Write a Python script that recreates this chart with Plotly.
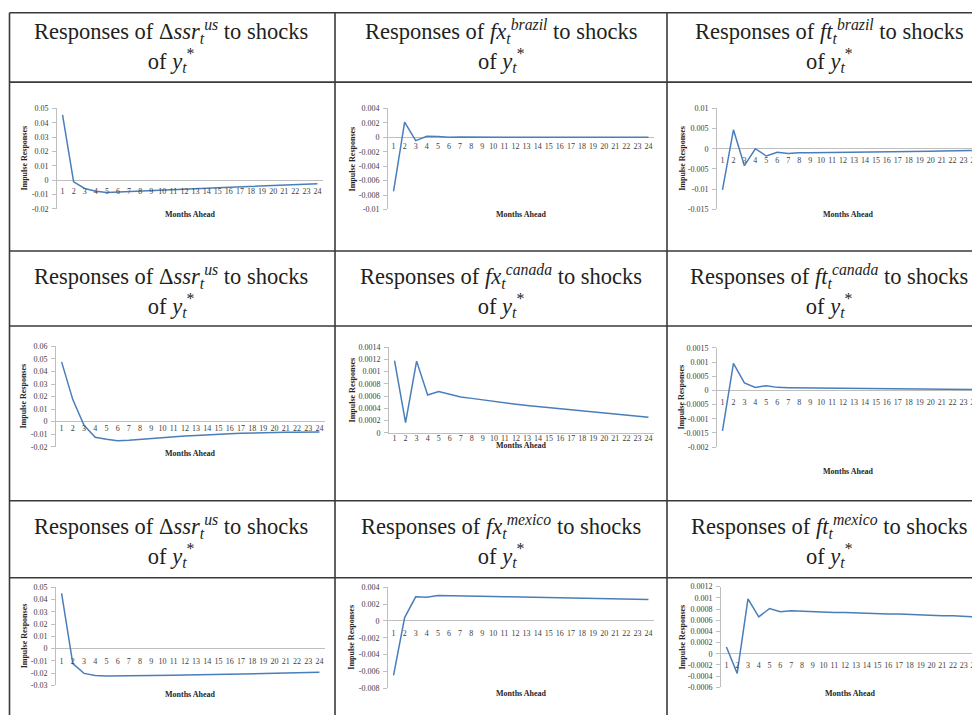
import plotly.graph_objects as go

# ---------------- data ----------------
months = list(range(1, 25))
month_labels = [str(m) for m in months]

ssr_brazil = [0.0455, -0.0012, -0.0058, -0.0077, -0.0087, -0.0083, -0.0079, -0.0075,
              -0.0071, -0.0068, -0.0065, -0.0062, -0.0059, -0.0056, -0.0053, -0.0050,
              -0.0047, -0.0044, -0.0041, -0.0038, -0.0035, -0.0032, -0.0029, -0.0026]
fx_brazil = [-0.0075, 0.0021, -0.00045, 0.00015, 0.0001, 0.0000, 0.00004, 0.00001,
             0.0, 0.0, 0.0, 0.0, 0.0, 0.0, 0.0, 0.0, 0.0, 0.0, 0.0, 0.0, 0.0, 0.0, 0.0, 0.0]
ft_brazil = [-0.0102, 0.0047, -0.0042, 0.0000, -0.0018, -0.0009, -0.0012, -0.0010,
             -0.0010, -0.00098, -0.00095, -0.0009, -0.00088, -0.00085, -0.0008, -0.00077,
             -0.00073, -0.0007, -0.00065, -0.0006, -0.00056, -0.00052, -0.00048, -0.00045]

ssr_canada = [0.0477, 0.0176, -0.0029, -0.0125, -0.0141, -0.0152, -0.0149, -0.0141,
              -0.0133, -0.0128, -0.0120, -0.0115, -0.0110, -0.0104, -0.0099, -0.0096,
              -0.0093, -0.0090, -0.0088, -0.0087, -0.0085, -0.0084, -0.0083, -0.0082]
fx_canada = [0.00118, 0.000166, 0.00117, 0.000617, 0.000676, 0.00063, 0.000585, 0.000563,
             0.000536, 0.00051, 0.000488, 0.000466, 0.000445, 0.000429, 0.000408, 0.000391,
             0.000375, 0.000359, 0.000343, 0.000327, 0.000311, 0.000295, 0.000279, 0.000257]
ft_canada = [-0.00143, 0.00096, 0.00027, 0.00011, 0.00017, 0.00011, 0.0001, 0.000095,
             0.00009, 0.000087, 0.000083, 0.00008, 0.000077, 0.000073, 0.00007, 0.000066,
             0.000062, 0.000058, 0.000055, 0.00005, 0.000047, 0.000043, 0.00004, 0.000036]

ssr_mexico = [0.0451, -0.0123, -0.0202, -0.0220, -0.0223, -0.0223, -0.0222, -0.0221,
              -0.0219, -0.0218, -0.0217, -0.0215, -0.0214, -0.0212, -0.0211, -0.0209,
              -0.0207, -0.0206, -0.0204, -0.0202, -0.0200, -0.0198, -0.0196, -0.0193]
fx_mexico = [-0.0065, 0.0004, 0.00287, 0.00283, 0.00302, 0.00298, 0.00296, 0.00294,
             0.00292, 0.0029, 0.00288, 0.00286, 0.00284, 0.00282, 0.0028, 0.00278,
             0.00276, 0.00273, 0.0027, 0.00267, 0.00264, 0.00261, 0.00258, 0.00255]
ft_mexico = [0.00012, -0.00035, 0.00098, 0.00066, 0.00081, 0.00075, 0.00077, 0.00076,
             0.00075, 0.00075, 0.00074, 0.00074, 0.00073, 0.00073, 0.00072, 0.00071,
             0.00071, 0.0007, 0.0007, 0.00069, 0.00068, 0.00068, 0.00067, 0.00066]

yticks_ssr_brazil = ["0.05", "0.04", "0.03", "0.02", "0.01", "0", "-0.01", "-0.02"]
yticks_fx_brazil = ["0.004", "0.002", "0", "-0.002", "-0.004", "-0.006", "-0.008", "-0.01"]
yticks_ft_brazil = ["0.01", "0.005", "0", "-0.005", "-0.01", "-0.015"]
yticks_ssr_canada = ["0.06", "0.05", "0.04", "0.03", "0.02", "0.01", "0", "-0.01", "-0.02"]
yticks_fx_canada = ["0.0014", "0.0012", "0.001", "0.0008", "0.0006", "0.0004", "0.0002", "0"]
yticks_ft_canada = ["0.0015", "0.001", "0.0005", "0", "-0.0005", "-0.001", "-0.0015", "-0.002"]
yticks_ssr_mexico = ["0.05", "0.04", "0.03", "0.02", "0.01", "0", "-0.01", "-0.02", "-0.03"]
yticks_fx_mexico = ["0.004", "0.002", "0", "-0.002", "-0.004", "-0.006", "-0.008"]
yticks_ft_mexico = ["0.0012", "0.001", "0.0008", "0.0006", "0.0004", "0.0002", "0",
                    "-0.0002", "-0.0004", "-0.0006"]

ystar = "of <i>y</i><sub><i>t</i></sub><sup>*</sup>"
header_ssr = "Responses of Δ<i>ssr</i><sub><i>t</i></sub><sup><i>us</i></sup> to shocks<br>" + ystar
header_fx_brazil = "Responses of <i>fx</i><sub><i>t</i></sub><sup><i>brazil</i></sup> to shocks<br>" + ystar
header_ft_brazil = "Responses of <i>ft</i><sub><i>t</i></sub><sup><i>brazil</i></sup> to shocks<br>" + ystar
header_fx_canada = "Responses of <i>fx</i><sub><i>t</i></sub><sup><i>canada</i></sup> to shocks<br>" + ystar
header_ft_canada = "Responses of <i>ft</i><sub><i>t</i></sub><sup><i>canada</i></sup> to shocks<br>" + ystar
header_fx_mexico = "Responses of <i>fx</i><sub><i>t</i></sub><sup><i>mexico</i></sup> to shocks<br>" + ystar
header_ft_mexico = "Responses of <i>ft</i><sub><i>t</i></sub><sup><i>mexico</i></sup> to shocks<br>" + ystar

y_title = "Impulse Responses"
x_title = "Months Ahead"

# ---------------- layout geometry ----------------
# The page body has an 8px margin, so the figure is 972x712 and all
# positions below (given in window pixels) are shifted by OFF.
OFF = 8
W, H = 980 - OFF, 728 - 2 * OFF
FONT = "Liberation Serif, Times New Roman, serif"
LINE_BLUE = "#4A7EBB"
AXIS_GRAY = "#BFBFBF"
TXT = "#404040"


def fx(px):
    return min(max((px - OFF) / W, 0.0), 1.0)


def fy(py):
    return min(max(1 - (py - OFF) / H, 0.0), 1.0)


panels = [
    # series, ticks, (left, right, top, bottom), x-title offset, label gap, y-title shift
    (ssr_brazil, yticks_ssr_brazil, (57, 323, 105.7, 207.3), 6, 10, -32),
    (fx_brazil, yticks_fx_brazil, (388, 654, 105.7, 208.0), 5, 8.3, -35.5),
    (ft_brazil, yticks_ft_brazil, (717, 981, 105.7, 207.7), 5.5, 10, -34),
    (ssr_canada, yticks_ssr_canada, (56, 325, 346.7, 448.3), 7, 6.5, -32),
    (fx_canada, yticks_fx_canada, (389, 654, 347.3, 434.3), 12.5, 5, -36.5),
    (ft_canada, yticks_ft_canada, (717, 981, 348.3, 448.7), 24, 10.3, -35),
    (ssr_mexico, yticks_ssr_mexico, (56, 325, 590.7, 690.0), 9, 11, -32),
    (fx_mexico, yticks_fx_mexico, (388, 654, 590.7, 692.7), 5.5, 11, -36),
    (ft_mexico, yticks_ft_mexico, (721, 981, 590.0, 692.0), 6, 10.3, -38.5),
]

headers = [header_ssr, header_fx_brazil, header_ft_brazil,
           header_ssr, header_fx_canada, header_ft_canada,
           header_ssr, header_fx_mexico, header_ft_mexico]
header_text_y = [42, 291, 544]
col_centers = [171, 501, 829]
h_lines = [8.8, 79, 250, 326, 503, 581]
v_lines = [9.5, 335, 667]

fig = go.Figure()
layout = dict(
    width=W, height=H,
    margin=dict(l=0, r=0, t=0, b=0),
    paper_bgcolor="white", plot_bgcolor="white",
    showlegend=False,
    font=dict(family=FONT, color=TXT, size=8),
)
annotations = []
shapes = []

for i, (series, ticks, box, xt_off, gap, yt_shift) in enumerate(panels):
    n = i + 1
    sfx = "" if n == 1 else str(n)
    xa, ya = "x" + sfx, "y" + sfx
    left, right, top, bottom = box
    tickvals = [float(t) for t in ticks]
    ymin, ymax = min(tickvals), max(tickvals)

    fig.add_trace(go.Scatter(x=months, y=series, mode="lines",
                             line=dict(color=LINE_BLUE, width=1.5),
                             xaxis=xa, yaxis=ya, hoverinfo="skip"))
    fig.add_trace(go.Scatter(x=months, y=[0] * len(months), mode="markers+text",
                             text=month_labels, textposition="bottom center",
                             textfont=dict(family=FONT, size=8, color=TXT),
                             marker=dict(size=max(2 * (gap - 4.5), 0.5),
                                         color="rgba(0,0,0,0)"),
                             cliponaxis=False,
                             xaxis=xa, yaxis=ya, hoverinfo="skip"))

    layout["xaxis" + sfx] = dict(
        domain=[fx(left), fx(right)], range=[0.5, 24.5],
        anchor=ya, showgrid=False, zeroline=False,
        showticklabels=False, ticks="",
        showline=(ymin == 0), linecolor=AXIS_GRAY, linewidth=1,
    )
    layout["yaxis" + sfx] = dict(
        domain=[fy(bottom), fy(top)], range=[ymin, ymax],
        anchor=xa, showgrid=False,
        zeroline=True, zerolinecolor=AXIS_GRAY, zerolinewidth=1,
        showline=True, linecolor=AXIS_GRAY, linewidth=1,
        ticks="outside", ticklen=4, tickcolor=AXIS_GRAY,
        tickvals=tickvals, ticktext=ticks,
        tickfont=dict(family=FONT, size=8, color=TXT),
        ticklabelstandoff=2,
    )
    annotations.append(dict(
        text="<b>" + y_title + "</b>", xref=xa + " domain", yref=ya + " domain",
        x=0, y=0.5, xanchor="center", yanchor="middle", xshift=yt_shift,
        textangle=-90, showarrow=False,
        font=dict(family=FONT, size=8, color="#262626")))
    annotations.append(dict(
        text="<b>" + x_title + "</b>", xref=xa + " domain", yref=ya + " domain",
        x=0.5, y=0, xanchor="center", yanchor="middle", yshift=-xt_off,
        showarrow=False,
        font=dict(family=FONT, size=8, color="#262626")))

    r, c = divmod(i, 3)
    annotations.append(dict(
        text=headers[i], xref="paper", yref="paper",
        x=fx(col_centers[c]), y=fy(header_text_y[r]),
        xanchor="center", yanchor="middle", showarrow=False, align="center",
        font=dict(family=FONT, size=22.5, color="#231F20")))

for yl in h_lines:
    shapes.append(dict(type="line", xref="paper", yref="paper",
                       x0=fx(v_lines[0]), x1=1, y0=fy(yl), y1=fy(yl),
                       line=dict(color="#3A3A3A", width=1.6)))
for xl in v_lines:
    shapes.append(dict(type="line", xref="paper", yref="paper",
                       x0=fx(xl), x1=fx(xl), y0=fy(h_lines[0]), y1=0,
                       line=dict(color="#3A3A3A", width=1.6)))

layout["annotations"] = annotations
layout["shapes"] = shapes
fig.update_layout(**layout)
fig.write_html("out.html")
